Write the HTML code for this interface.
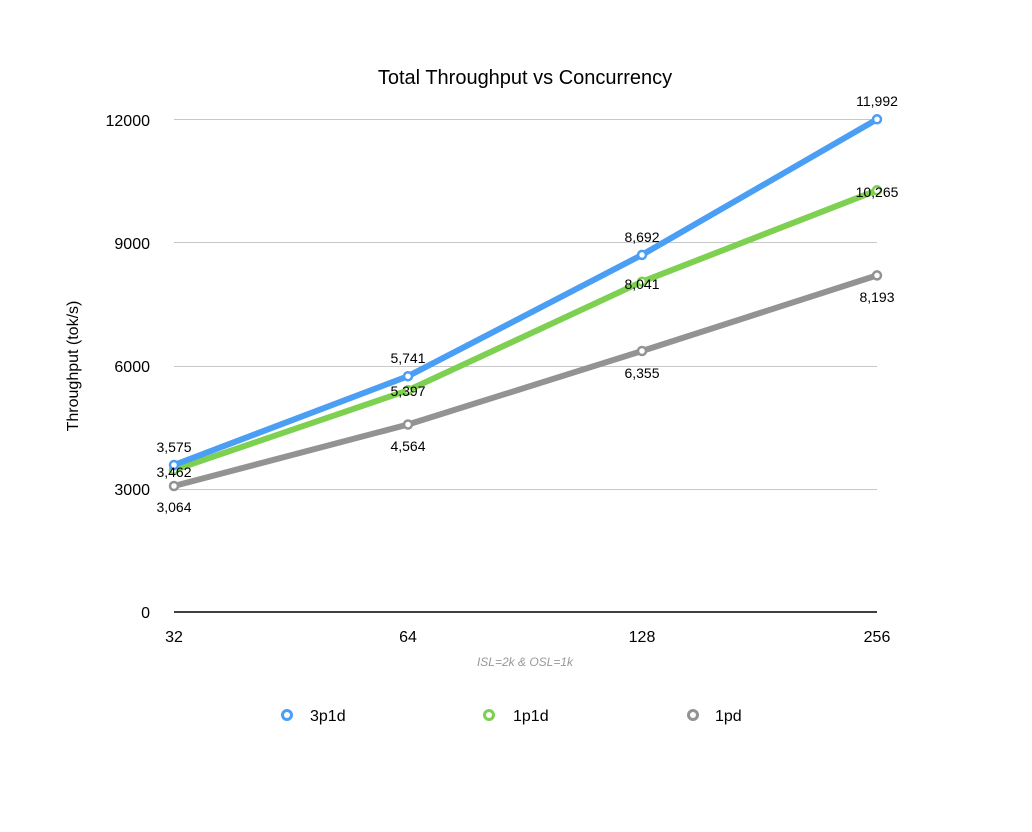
<!DOCTYPE html>
<html><head><meta charset="utf-8"><style>body{margin:0;background:#fff}svg{display:block}text{font-family:"Liberation Sans",Arial,sans-serif}</style></head>
<body>
<svg width="1032" height="832" viewBox="0 0 1032 832" xmlns="http://www.w3.org/2000/svg">
<rect width="1032" height="832" fill="#fff"/>
<text x="525" y="84" font-size="20" text-anchor="middle" fill="#000">Total Throughput vs Concurrency</text>
<g stroke="#c8c8c8" stroke-width="1">
<line x1="174" y1="119.5" x2="877" y2="119.5"/>
<line x1="174" y1="242.5" x2="877" y2="242.5"/>
<line x1="174" y1="366.5" x2="877" y2="366.5"/>
<line x1="174" y1="489.5" x2="877" y2="489.5"/>
</g>
<line x1="174" y1="612" x2="877" y2="612" stroke="#000" stroke-width="1.5"/>
<g font-size="16" text-anchor="end" fill="#000">
<text x="150" y="126">12000</text><text x="150" y="249">9000</text><text x="150" y="372">6000</text><text x="150" y="495">3000</text><text x="150" y="618">0</text>
</g>
<g font-size="16" text-anchor="middle" fill="#000">
<text x="174" y="642">32</text><text x="408" y="642">64</text><text x="642" y="642">128</text><text x="877" y="642">256</text>
</g>
<text x="78" y="366" font-size="16" text-anchor="middle" transform="rotate(-90 78 366)">Throughput (tok/s)</text>
<text x="525" y="666" font-size="12" font-style="italic" fill="#999" text-anchor="middle">ISL=2k &amp; OSL=1k</text>
<g fill="none" stroke-width="6" stroke-linejoin="round" stroke-linecap="round">
<polyline stroke="#939393" points="174,486 408,424.5 642,351 877,275.4"/>
<polyline stroke="#7ed050" points="174,470 408,390.3 642,281.7 877,190.3"/>
<polyline stroke="#4a9ff5" points="174,465 408,376.2 642,254.9 877,119.3"/>
</g>
<g fill="#fff" stroke-width="2.5">
<g stroke="#939393"><circle cx="174" cy="486" r="4"/><circle cx="408" cy="424.5" r="4"/><circle cx="642" cy="351" r="4"/><circle cx="877" cy="275.4" r="4"/></g>
<g stroke="#7ed050"><circle cx="174" cy="470" r="4"/><circle cx="408" cy="390.3" r="4"/><circle cx="642" cy="281.7" r="4"/><circle cx="877" cy="190.3" r="4"/></g>
<g stroke="#4a9ff5"><circle cx="174" cy="465" r="4"/><circle cx="408" cy="376.2" r="4"/><circle cx="642" cy="254.9" r="4"/><circle cx="877" cy="119.3" r="4"/></g>
</g>
<g font-size="14" text-anchor="middle" fill="#000">
<text x="174" y="452">3,575</text><text x="408" y="363">5,741</text><text x="642" y="242">8,692</text><text x="877" y="106">11,992</text>
<text x="174" y="477">3,462</text><text x="408" y="396">5,397</text><text x="642" y="289">8,041</text><text x="877" y="197">10,265</text>
<text x="174" y="512">3,064</text><text x="408" y="451">4,564</text><text x="642" y="378">6,355</text><text x="877" y="302">8,193</text>
</g>
<g fill="#fff" stroke-width="3">
<circle cx="287" cy="715" r="4.5" stroke="#4a9ff5"/>
<circle cx="489" cy="715" r="4.5" stroke="#7ed050"/>
<circle cx="693" cy="715" r="4.5" stroke="#939393"/>
</g>
<g font-size="16" fill="#000">
<text x="310" y="721">3p1d</text><text x="513" y="721">1p1d</text><text x="715" y="721">1pd</text>
</g>
</svg>
</body></html>
